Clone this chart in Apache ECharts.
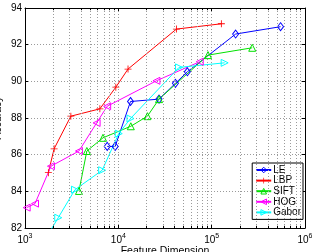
<!DOCTYPE html>
<html>
<head>
<meta charset="utf-8">
<script src="https://cdn.jsdelivr.net/npm/echarts@6/dist/echarts.min.js"></script>
<style>
  html, body { margin: 0; padding: 0; background: #fff; }
  #chart { width: 312px; height: 252px; }
</style>
</head>
<body>
<div id="chart"></div>
<script>
// values (x = feature dimension, y = accuracy %)
var leX = [7600, 9250, 13500, 27300, 40900, 54900, 180600, 547000];
var leY = [86.45, 86.45, 88.9, 89.03, 89.89, 90.52, 92.58, 92.98];
var lbpX = [1780, 2050, 3100, 6340, 9400, 12700, 41900, 127000];
var lbpY = [85.02, 86.32, 88.1, 88.5, 89.68, 90.67, 92.85, 93.14];
var siftX = [3785, 4600, 6850, 13600, 20500, 27300, 91400, 272000];
var siftY = [84.02, 86.2, 86.92, 87.55, 88.1, 89.03, 91.43, 91.83];
var hogX = [1042, 1280, 1897, 3785, 5850, 7590, 25600, 74500];
var hogY = [83.11, 83.33, 85.37, 86.2, 87.73, 88.64, 90.03, 91.07];
var gaborX = [1700, 2270, 3430, 6710, 10100, 13500, 44700, 137800];
var gaborY = [81.5, 82.56, 84.09, 85.15, 87.15, 87.97, 90.76, 91.01];

var names = ['LE', 'LBP', 'SIFT', 'HOG', 'Gabor'];
var colors = ['#0000ff', '#ff0000', '#00e000', '#ff00ff', '#00ffff'];
var decades = [1000, 10000, 100000];
var yMin = 82, yMax = 94;

function pairs(xs, ys) {
    return xs.map(function (x, i) { return [x, ys[i]]; });
}

// minor log positions 2..9 of each decade
var minorX = [];
decades.forEach(function (d) {
    for (var m = 2; m <= 9; m++) minorX.push(d * m);
});

var font = 'Liberation Sans, Arial, sans-serif';
var dotted = { type: [1, 2], color: '#9a9a9a', width: 1 };
var hollowFill = 'rgba(255,255,255,0)';

function mkSeries(name, xs, ys, color, symbol, rotate, hollow, size) {
    return {
        name: name,
        type: 'line',
        data: pairs(xs, ys),
        symbol: symbol,
        symbolSize: size,
        symbolRotate: rotate,
        showAllSymbol: true,
        clip: true,
        z: 3,
        lineStyle: { color: color, width: 1 },
        itemStyle: hollow
            ? { color: hollowFill, borderColor: color, borderWidth: 1 }
            : { color: color, borderWidth: 0 },
        emphasis: { disabled: true }
    };
}

var plus = 'path://M0,4.4L10,4.4L10,5.6L0,5.6Z M4.4,0L5.6,0L5.6,10L4.4,10Z';

var chart = echarts.init(document.getElementById('chart'));
var option = {
    animation: false,
    grid: { left: 25, right: 7, top: 8, bottom: 24, show: false, containLabel: false, outerBoundsMode: 'none' },
    legend: {
        data: names.map(function (n, i) {
            return n === 'LBP' ? { name: n }
                : { name: n, itemStyle: { color: hollowFill, borderColor: colors[i], borderWidth: 1 } };
        }),
        orient: 'vertical',
        right: 9,
        top: 163,
        padding: [2, 2, 2, 3],
        itemWidth: 15,
        itemHeight: 7,
        itemGap: 0.6,
        backgroundColor: '#fff',
        borderColor: '#000',
        borderWidth: 1,
        borderRadius: 0,
        textStyle: { fontFamily: font, fontSize: 10, color: '#000', padding: [0, 0, 0, -3] }
    },
    xAxis: [{
        type: 'log',
        logBase: 10,
        min: 1000,
        max: 1000000,
        name: 'Feature Dimension',
        nameLocation: 'middle',
        nameGap: 18,
        nameMoveOverlap: false,
        nameTextStyle: { fontFamily: font, fontSize: 10.5, color: '#000' },
        axisLine: { lineStyle: { color: '#000', width: 1 } },
        axisTick: { inside: true, length: 3, lineStyle: { color: '#000' } },
        splitLine: { show: true, lineStyle: dotted },
        axisLabel: {
            margin: 5,
            color: '#000',
            showMinLabel: true,
            showMaxLabel: true,
            hideOverlap: false,
            formatter: function (v) {
                return '{b|10}{s|' + Math.round(Math.log10(v)) + '}';
            },
            rich: {
                b: { fontFamily: font, fontSize: 10, color: '#000', verticalAlign: 'bottom' },
                s: { fontFamily: font, fontSize: 7, color: '#000', verticalAlign: 'bottom', padding: [0, 0, 5, 0] }
            }
        }
    }, {
        type: 'log',
        logBase: 10,
        min: 1000,
        max: 1000000,
        position: 'top',
        axisLine: { show: true, lineStyle: { color: '#000', width: 1 } },
        axisTick: { inside: true, length: 3, lineStyle: { color: '#000' } },
        axisLabel: { show: false },
        splitLine: { show: false }
    }],
    yAxis: [{
        type: 'value',
        min: yMin,
        max: yMax,
        interval: 2,
        name: 'Accuracy',
        nameLocation: 'middle',
        nameGap: 21,
        nameMoveOverlap: false,
        nameTextStyle: { fontFamily: font, fontSize: 10.5, color: '#000' },
        axisLine: { show: true, lineStyle: { color: '#000', width: 1 } },
        axisTick: { inside: true, length: 3, lineStyle: { color: '#000' } },
        splitLine: { show: true, lineStyle: dotted },
        axisLabel: { margin: 3, fontFamily: font, fontSize: 10, color: '#000' }
    }, {
        type: 'value',
        min: yMin,
        max: yMax,
        interval: 2,
        position: 'right',
        axisLine: { show: true, lineStyle: { color: '#000', width: 1 } },
        axisTick: { inside: true, length: 3, lineStyle: { color: '#000' } },
        axisLabel: { show: false },
        splitLine: { show: false }
    }],
    series: [
        mkSeries('LE', leX, leY, colors[0], 'diamond', 0, true, [6, 8]),
        mkSeries('LBP', lbpX, lbpY, colors[1], plus, 0, false, 7),
        mkSeries('SIFT', siftX, siftY, colors[2], 'triangle', 0, true, 7),
        mkSeries('HOG', hogX, hogY, colors[3], 'triangle', 90, true, 7),
        mkSeries('Gabor', gaborX, gaborY, colors[4], 'triangle', -90, true, 7),
        {
            // minor grid lines + minor ticks of the log axis
            type: 'line',
            data: [],
            z: 1,
            silent: true,
            markLine: {
                silent: true,
                symbol: 'none',
                animation: false,
                label: { show: false },
                lineStyle: dotted,
                data: minorX.map(function (v) { return { xAxis: v }; })
                    .concat(minorX.map(function (v) {
                        return [{ coord: [v, yMin], lineStyle: { type: 'solid', color: '#000' } }, { coord: [v, yMin + 0.12] }];
                    }))
                    .concat(minorX.map(function (v) {
                        return [{ coord: [v, yMax], lineStyle: { type: 'solid', color: '#000' } }, { coord: [v, yMax - 0.12] }];
                    }))
            }
        }
    ]
};
chart.setOption(option);
</script>
</body>
</html>
